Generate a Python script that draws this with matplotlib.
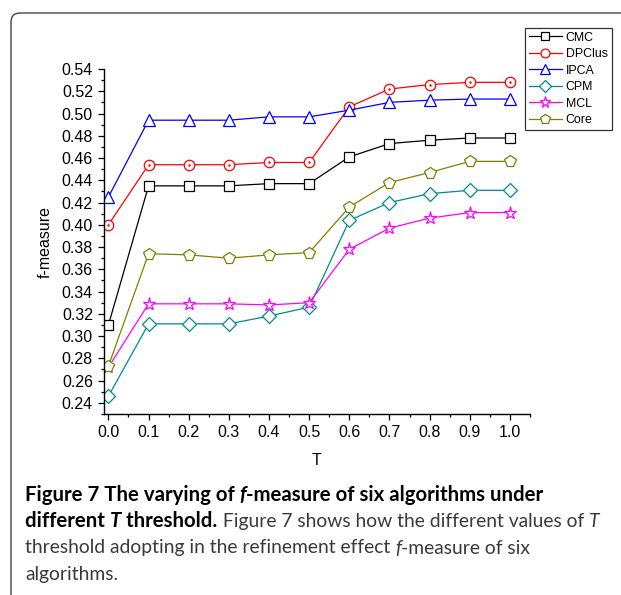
import numpy as np
import matplotlib
matplotlib.use("Agg")
import matplotlib.pyplot as plt
from matplotlib.patches import FancyBboxPatch

# data
T = [0.0, 0.1, 0.2, 0.3, 0.4, 0.5, 0.6, 0.7, 0.8, 0.9, 1.0]
cmc = [0.310, 0.435, 0.435, 0.435, 0.437, 0.437, 0.461, 0.473, 0.476, 0.478, 0.478]
dpclus = [0.400, 0.454, 0.454, 0.454, 0.456, 0.456, 0.506, 0.522, 0.526, 0.528, 0.528]
ipca = [0.425, 0.494, 0.494, 0.494, 0.497, 0.497, 0.503, 0.510, 0.512, 0.513, 0.513]
cpm = [0.246, 0.311, 0.311, 0.311, 0.318, 0.326, 0.404, 0.420, 0.428, 0.431, 0.431]
mcl = [0.272, 0.329, 0.329, 0.329, 0.328, 0.330, 0.378, 0.397, 0.406, 0.411, 0.411]
core = [0.273, 0.374, 0.373, 0.370, 0.373, 0.375, 0.416, 0.438, 0.447, 0.457, 0.457]

names = ["CMC", "DPClus", "IPCA", "CPM", "MCL", "Core"]
series = [cmc, dpclus, ipca, cpm, mcl, core]
colors = ["black", "#ff0000", "#0000ff", "#008b8b", "#ff00ff", "#808000"]
markers = ["s", "o", "^", "D", "*", "p"]
msizes = [7.5, 7.5, 9, 7, 9.5, 8.5]

W, H = 621, 595
fig = plt.figure(figsize=(W / 100, H / 100), dpi=100)
plt.rcParams['font.family'] = ['Liberation Sans', 'DejaVu Sans']

# rounded caption box border
box = FancyBboxPatch((11, -30), 700, H - 12 + 30 - 1,
                     boxstyle="round,pad=0,rounding_size=9",
                     transform=None, fill=False, edgecolor="#444444", lw=1.0)
fig.patches.append(box)

ax = fig.add_axes([104 / W, 1 - 414 / H, (530 - 104) / W, (414 - 69) / H])

handles = []
for name, ys, c, m, ms in zip(names, series, colors, markers, msizes):
    h, = ax.plot(T, ys, color=c, lw=0.9, marker=m, ms=ms,
                 mfc="white", mec=c, mew=0.9, label=name)
    handles.append(h)
    if name == "DPClus":
        ax.plot(T, ys, ls="none", marker=".", ms=1.5, color=c)

ax.set_xlim(-0.011, 1.05)
ax.set_ylim(0.23, 0.54)
ax.set_xticks(np.arange(0, 1.01, 0.1))
ax.set_xticks(np.arange(0.05, 1.06, 0.1), minor=True)
ax.set_yticks(np.arange(0.24, 0.541, 0.02))
ax.set_yticks(np.arange(0.23, 0.541, 0.01), minor=True)
ax.xaxis.set_major_formatter(plt.FormatStrFormatter("%.1f"))
ax.yaxis.set_major_formatter(plt.FormatStrFormatter("%.2f"))
ax.tick_params(which="major", direction="out", length=4, width=0.9, labelsize=11.5, pad=4)
ax.tick_params(which="minor", direction="out", length=2.3, width=0.9)
for s in ["top", "right"]:
    ax.spines[s].set_visible(False)
for s in ["left", "bottom"]:
    ax.spines[s].set_linewidth(1.0)
ax.set_xlabel("T", fontsize=11.5, labelpad=9)
ax.set_ylabel("f-measure", fontsize=11.5, labelpad=6)

leg = fig.legend(handles=handles, loc="upper left",
                 bbox_to_anchor=(525 / W, 1 - 28 / H), fontsize=8.9,
                 frameon=True, fancybox=False, edgecolor="black",
                 handlelength=2.7, handletextpad=0.3, labelspacing=0.36,
                 borderpad=0.3, borderaxespad=0, markerscale=0.85)
leg.get_frame().set_linewidth(0.9)

# caption with mixed styles
cap_font = "Lato"
bold_size = 14.7
reg_size = 13.9
grey = "#3a3a3a"
lines = [
    [("Figure 7 The varying of ", "bold", "normal", "black"),
     ("f", "bold", "italic", "black"),
     ("-measure of six algorithms under", "bold", "normal", "black")],
    [("different ", "bold", "normal", "black"),
     ("T", "bold", "italic", "black"),
     (" threshold.", "bold", "normal", "black"),
     (" Figure 7 shows how the different values of ", "normal", "normal", grey),
     ("T", "normal", "italic", grey)],
    [("threshold adopting in the refinement effect ", "normal", "normal", grey),
     ("f", "normal", "italic", grey),
     ("-measure of six", "normal", "normal", grey)],
    [("algorithms.", "normal", "normal", grey)],
]
baselines = [500.7, 527, 553.5, 580]
renderer = fig.canvas.get_renderer()
for runs, yb in zip(lines, baselines):
    x = 25
    for txt, wt, st, col in runs:
        size = bold_size if wt == "bold" else reg_size
        t = fig.text(x / W, 1 - yb / H, txt, fontsize=size, family=cap_font,
                     weight=wt, style=st, color=col, va="baseline", ha="left")
        bb = t.get_window_extent(renderer)
        x = bb.x1

fig.savefig("out.png", dpi=100)
